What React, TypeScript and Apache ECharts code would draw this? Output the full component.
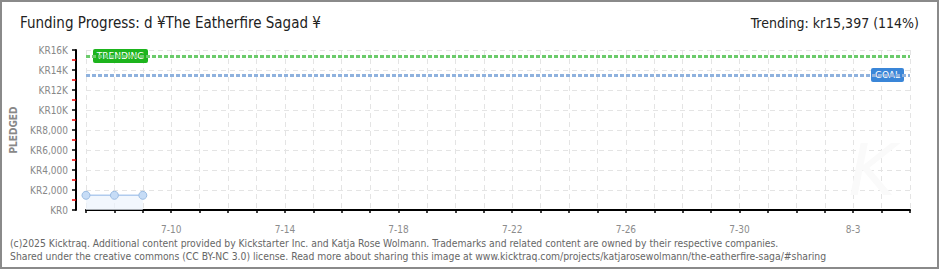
import React, { useEffect, useRef } from "react";
import * as echarts from "echarts";

const days: string[] = [
  "7-7", "7-8", "7-9", "7-10", "7-11", "7-12", "7-13", "7-14", "7-15", "7-16",
  "7-17", "7-18", "7-19", "7-20", "7-21", "7-22", "7-23", "7-24", "7-25", "7-26",
  "7-27", "7-28", "7-29", "7-30", "7-31", "8-1", "8-2", "8-3", "8-4", "8-5",
];
const pledged: (number | null)[] = [1470, 1470, 1470];
const goal = 13500;
const trending = 15397;
const titleText = "Funding Progress: d ¥The Eatherfire Sagad ¥";
const trendText = "Trending: kr15,397 (114%)";
const footer1 =
  "(c)2025 Kicktraq. Additional content provided by Kickstarter Inc. and Katja Rose Wolmann. Trademarks and related content are owned by their respective companies.";
const footer2 =
  "Shared under the creative commons (CC BY-NC 3.0) license. Read more about sharing this image at www.kicktraq.com/projects/katjarosewolmann/the-eatherfire-saga/#sharing";

const pixelFont = "'DejaVu Sans Condensed', 'DejaVu Sans', sans-serif";

function fmtY(v: number): string {
  if (v === 0) return "KR0";
  if (v >= 10000) return "KR" + v / 1000 + "K";
  return "KR" + v.toLocaleString("en-US");
}

export default function App() {
  const ref = useRef<HTMLDivElement>(null);
  useEffect(() => {
    if (!ref.current) return;
    const chart = echarts.init(ref.current, null, { renderer: "svg" });
    chart.setOption({
      animation: false,
      backgroundColor: "#fff",
      grid: { left: 86, right: 30, top: 50, bottom: 60 },
      xAxis: {
        type: "category",
        data: days,
        boundaryGap: false,
        offset: 10,
        axisLine: { lineStyle: { color: "#000", width: 2 } },
        axisTick: { show: true, interval: 0, length: 3, lineStyle: { color: "#000", width: 1.5 } },
        axisLabel: {
          interval: (i: number) => (i - 3) % 4 === 0,
          color: "#8c8c8c",
          fontSize: 10,
          fontFamily: pixelFont,
          margin: 4,
        },
        splitLine: { show: true, interval: 0, lineStyle: { color: "#e4e4e4", type: [5, 4] } },
      },
      yAxis: {
        type: "value",
        min: 0,
        max: 16000,
        interval: 2000,
        offset: 10,
        name: "PLEDGED",
        nameLocation: "middle",
        nameGap: 58,
        nameTextStyle: { color: "#888", fontSize: 10, fontFamily: pixelFont, fontWeight: "bold" },
        axisLine: { show: true, lineStyle: { color: "#000", width: 2 } },
        axisTick: { show: true, length: 4, lineStyle: { color: "#000", width: 1.5 } },
        minorTick: { show: true, splitNumber: 2, length: 4, lineStyle: { color: "#e00", width: 1.5 } },
        axisLabel: { formatter: fmtY, color: "#888", fontSize: 10, fontFamily: pixelFont, margin: 8 },
        splitLine: { show: true, lineStyle: { color: "#e4e4e4", type: [5, 4] } },
      },
      series: [
        {
          type: "line",
          data: pledged,
          symbol: "circle",
          symbolSize: 8,
          itemStyle: { color: "#c6dcf6", borderColor: "#9bbce2", borderWidth: 1 },
          lineStyle: { color: "#b0cbee", width: 1.5 },
          areaStyle: { color: "#edf4fc" },
          markLine: {
            silent: true,
            symbol: "none",
            label: { show: false },
            data: [
              { yAxis: trending, lineStyle: { color: "#6ccb6c", width: 3, type: [4, 2] } },
              { yAxis: goal, lineStyle: { color: "#8fb2de", width: 3, type: [4, 2] } },
            ],
          },
          z: 3,
        },
      ],
    });

    const yT = chart.convertToPixel({ yAxisIndex: 0 }, trending) as number;
    const yG = chart.convertToPixel({ yAxisIndex: 0 }, goal) as number;
    const xStart = chart.convertToPixel({ xAxisIndex: 0 }, 0) as number;
    const xEnd = chart.convertToPixel({ xAxisIndex: 0 }, days.length - 1) as number;

    chart.setOption({
      graphic: [
        {
          type: "rect",
          shape: { x: 1, y: 1, width: 937, height: 267 },
          style: { fill: "none", stroke: "#8a8a8a", lineWidth: 2 },
          z: 100,
        },
        {
          type: "text",
          x: 872,
          y: 170,
          style: {
            text: "K",
            font: "italic 72px 'DejaVu Sans'",
            fill: "#fafafa",
            textAlign: "center",
            textVerticalAlign: "middle",
          },
          z: 0,
        },
        {
          type: "text",
          x: 20,
          y: 23,
          style: {
            text: titleText,
            font: "15px " + pixelFont,
            fill: "#222",
            textVerticalAlign: "middle",
          },
        },
        {
          type: "text",
          x: 919,
          y: 23,
          style: {
            text: trendText,
            font: "14px " + pixelFont,
            fill: "#222",
            textAlign: "right",
            textVerticalAlign: "middle",
          },
        },
        {
          type: "text",
          x: 10,
          y: 243,
          style: { text: footer1, font: "10.3px " + pixelFont, fill: "#666", textVerticalAlign: "middle" },
        },
        {
          type: "text",
          x: 10,
          y: 256,
          style: { text: footer2, font: "10.3px " + pixelFont, fill: "#666", textVerticalAlign: "middle" },
        },
        {
          type: "group",
          x: xStart + 7,
          y: yT,
          z: 50,
          children: [
            {
              type: "rect",
              shape: { x: 0, y: -7, width: 55, height: 14, r: 2 },
              style: { fill: "#1db41d" },
            },
            {
              type: "text",
              x: 27.5,
              y: 0,
              style: {
                text: "TRENDING",
                font: "9px 'DejaVu Sans', sans-serif",
                fill: "#fff",
                textAlign: "center",
                textVerticalAlign: "middle",
              },
            },
          ],
        },
        {
          type: "group",
          x: xEnd - 39,
          y: yG,
          z: 50,
          children: [
            {
              type: "rect",
              shape: { x: 0, y: -7, width: 33, height: 14, r: 2 },
              style: { fill: "#3a86d8" },
            },
            {
              type: "text",
              x: 16.5,
              y: 0,
              style: {
                text: "GOAL",
                font: "9px 'DejaVu Sans', sans-serif",
                fill: "#fff",
                textAlign: "center",
                textVerticalAlign: "middle",
              },
            },
          ],
        },
      ],
    });

    return () => chart.dispose();
  }, []);
  return (
    <div
      ref={ref}
      style={{ position: "fixed", left: 0, top: 0, width: 940, height: 270 }}
    />
  );
}
